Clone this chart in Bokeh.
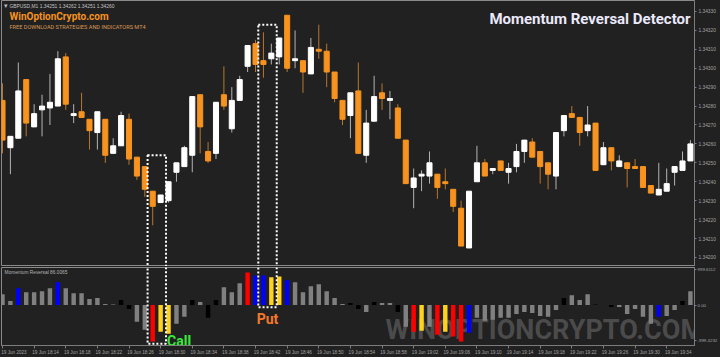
from bokeh.plotting import figure
from bokeh.layouts import column
from bokeh.models import (ColumnDataSource, Range1d, LinearAxis, FixedTicker,
                          NumeralTickFormatter, Label)
from bokeh.core.properties import value
from bokeh.embed import file_html
from bokeh.resources import INLINE

# ---------------- data ----------------
symbol = "GBPUSD,M1"

opens = [1.34283, 1.34258, 1.34263, 1.34294, 1.34269, 1.34278, 1.34279, 1.34280, 1.34306, 1.34275,
         1.34277, 1.34273, 1.34266, 1.34273, 1.34255, 1.34259, 1.34273, 1.34253, 1.34248, 1.34235,
         1.34229, 1.34230, 1.34245, 1.34248, 1.34254, 1.34286, 1.34256, 1.34255, 1.34286, 1.34268,
         1.34283, 1.34301, 1.34313, 1.34304, 1.34305, 1.34306, 1.34328, 1.34304, 1.34304, 1.34297,
         1.34310, 1.34309, 1.34298, 1.34283, 1.34275, 1.34288, 1.34254, 1.34272, 1.34287, 1.34283,
         1.34279, 1.34262, 1.34237, 1.34243, 1.34243, 1.34244, 1.34240, 1.34236, 1.34226, 1.34205,
         1.34240, 1.34250, 1.34246, 1.34251, 1.34245, 1.34248, 1.34256, 1.34261, 1.34256, 1.34250,
         1.34243, 1.34267, 1.34276, 1.34274, 1.34267, 1.34271, 1.34249, 1.34258, 1.34248, 1.34250,
         1.34248, 1.34248, 1.34238, 1.34233, 1.34235, 1.34245, 1.34246, 1.34251]
highs = [1.34292, 1.34264, 1.34303, 1.34294, 1.34281, 1.34286, 1.34297, 1.34309, 1.34308, 1.34281,
         1.34287, 1.34273, 1.34277, 1.34273, 1.34263, 1.34277, 1.34276, 1.34253, 1.34248, 1.34235,
         1.34233, 1.34240, 1.34250, 1.34259, 1.34285, 1.34286, 1.34261, 1.34282, 1.34301, 1.34290,
         1.34296, 1.34312, 1.34315, 1.34319, 1.34313, 1.34316, 1.34328, 1.34320, 1.34304, 1.34316,
         1.34323, 1.34313, 1.34298, 1.34283, 1.34287, 1.34303, 1.34278, 1.34296, 1.34292, 1.34288,
         1.34281, 1.34262, 1.34247, 1.34246, 1.34256, 1.34244, 1.34247, 1.34236, 1.34230, 1.34235,
         1.34259, 1.34252, 1.34247, 1.34251, 1.34250, 1.34260, 1.34262, 1.34263, 1.34256, 1.34250,
         1.34266, 1.34275, 1.34280, 1.34274, 1.34280, 1.34271, 1.34261, 1.34258, 1.34254, 1.34250,
         1.34252, 1.34248, 1.34238, 1.34250, 1.34247, 1.34248, 1.34256, 1.34262]
lows = [1.34255, 1.34244, 1.34263, 1.34264, 1.34269, 1.34264, 1.34270, 1.34280, 1.34278, 1.34271,
        1.34274, 1.34257, 1.34257, 1.34250, 1.34255, 1.34259, 1.34249, 1.34241, 1.34232, 1.34217,
        1.34229, 1.34229, 1.34240, 1.34248, 1.34245, 1.34255, 1.34250, 1.34252, 1.34278, 1.34266,
        1.34283, 1.34298, 1.34298, 1.34295, 1.34302, 1.34302, 1.34298, 1.34300, 1.34287, 1.34297,
        1.34305, 1.34290, 1.34282, 1.34270, 1.34263, 1.34255, 1.34250, 1.34272, 1.34278, 1.34273,
        1.34263, 1.34239, 1.34226, 1.34235, 1.34239, 1.34231, 1.34236, 1.34224, 1.34206, 1.34205,
        1.34240, 1.34243, 1.34244, 1.34246, 1.34239, 1.34245, 1.34250, 1.34253, 1.34239, 1.34236,
        1.34236, 1.34264, 1.34274, 1.34259, 1.34264, 1.34246, 1.34249, 1.34246, 1.34248, 1.34237,
        1.34247, 1.34237, 1.34234, 1.34233, 1.34235, 1.34238, 1.34246, 1.34251]
closes = [1.34262, 1.34264, 1.34288, 1.34271, 1.34276, 1.34280, 1.34282, 1.34305, 1.34281, 1.34276,
          1.34274, 1.34267, 1.34277, 1.34254, 1.34259, 1.34275, 1.34252, 1.34243, 1.34236, 1.34227,
          1.34233, 1.34240, 1.34250, 1.34258, 1.34285, 1.34269, 1.34251, 1.34282, 1.34280, 1.34283,
          1.34294, 1.34312, 1.34302, 1.34302, 1.34308, 1.34316, 1.34300, 1.34305, 1.34298, 1.34311,
          1.34309, 1.34298, 1.34284, 1.34273, 1.34287, 1.34255, 1.34271, 1.34285, 1.34284, 1.34284,
          1.34263, 1.34239, 1.34242, 1.34244, 1.34250, 1.34237, 1.34239, 1.34227, 1.34206, 1.34235,
          1.34250, 1.34243, 1.34247, 1.34246, 1.34247, 1.34256, 1.34262, 1.34253, 1.34248, 1.34244,
          1.34266, 1.34275, 1.34274, 1.34266, 1.34270, 1.34246, 1.34258, 1.34251, 1.34251, 1.34247,
          1.34247, 1.34237, 1.34234, 1.34236, 1.34239, 1.34248, 1.34251, 1.34260]

# momentum histogram and the state of each bar
momentum = [306, 111, 473, 361, 361, 389, 473, 639, 473, 334, 334, 167, 195, 28, 14, 139,
            -111, -473, -695, -1029, -751, -806, -528, -334, 139, 83, -361, 139, 500, 361, 612, 917,
            834, 834, 778, 806, 695, 639, 361, 528, 584, 389, 195, 28, 56, -111, -195, 83,
            56, 56, -195, -612, -751, -723, -612, -834, -751, -890, -1029, -778, -361, -445, -417, -361,
            -361, -250, -195, -222, -306, -334, -139, 195, 278, 139, 306, 14, 0, -56, -56, -250,
            -111, -334, -528, -334, -306, -139, 111, 389]
state = ["g", "g", "b", "g", "g", "g", "g", "b", "g", "g", "g", "g", "g", "g", "g", "k",
         "k", "g", "g", "r", "y", "y", "g", "g", "k", "g", "k", "k", "g", "g", "g", "r",
         "b", "b", "y", "y", "b", "g", "g", "g", "g", "g", "g", "g", "k", "k", "g", "k",
         "g", "g", "k", "g", "r", "y", "g", "r", "y", "r", "r", "b", "g", "g", "g", "g",
         "g", "g", "g", "g", "g", "g", "g", "k", "g", "g", "g", "k", "g", "k", "g", "g",
         "g", "g", "g", "b", "g", "g", "k", "g"]

# signals: kind, first and last bar of the signal window, upper edge of the window
signal_kind = ["Call", "Put"]
signal_first = [19, 33]
signal_last = [20, 34]
signal_top = [1.34254, 1.34323]

price_ticks = [1.34200, 1.34210, 1.34220, 1.34230, 1.34240, 1.34250, 1.34260,
               1.34270, 1.34280, 1.34290, 1.34300, 1.34310, 1.34320, 1.34330]
osc_ticks = [999.6112, 0.0, -999.4232]
osc_tick_labels = ["999.6112", "0.00", "-999.4232"]
time_label_bars = [0, 4, 8, 12, 16, 20, 24, 28, 32, 36, 40, 44, 48, 52, 56, 60, 64, 68, 72, 76, 80, 84]
time_labels = ["19 Jun 2023", "19 Jun 18:14", "19 Jun 18:18", "19 Jun 18:22", "19 Jun 18:26",
               "19 Jun 18:30", "19 Jun 18:34", "19 Jun 18:38", "19 Jun 18:42", "19 Jun 18:46",
               "19 Jun 18:50", "19 Jun 18:54", "19 Jun 18:58", "19 Jun 19:02", "19 Jun 19:06",
               "19 Jun 19:10", "19 Jun 19:14", "19 Jun 19:18", "19 Jun 19:22", "19 Jun 19:26",
               "19 Jun 19:30", "19 Jun 19:34"]

# ---------------- styling ----------------
BG = "#212121"
AXIS = "#7c7c7c"
TICK_TXT = "#a4a4a4"
ORANGE = "#F7931E"
WHITE = "#FFFFFF"
HEAVY = "Roboto"
SMALL = "Liberation Sans"
STATE_COLORS = {"g": "#808080", "b": "#0000FF", "r": "#FF0000", "y": "#FFD21F", "k": "#000000"}

W = 720
MAIN_H = 266
OSC_H = 91
BAR_PX = 7.93        # horizontal pixels per bar
BORDER_L = 1
BORDER_R = 24
FRAME_W = W - BORDER_L - BORDER_R
x0 = -1.0 / BAR_PX
xr = Range1d(x0, x0 + FRAME_W / BAR_PX)

n = len(opens)
idx = list(range(n))
bull = [c >= o for o, c in zip(opens, closes)]
candles = ColumnDataSource(dict(
    i=idx, open=opens, high=highs, low=lows, close=closes,
    top=[max(o, c) for o, c in zip(opens, closes)],
    bottom=[min(o, c) for o, c in zip(opens, closes)],
    body=[WHITE if b else ORANGE for b in bull],
    wick=["#b4b4b4" if b else "#b8772c" for b in bull],
))

# ---------------- price panel ----------------
main = figure(width=W, height=MAIN_H, x_range=xr, y_range=Range1d(1.341952, 1.343358),
              output_backend="svg", toolbar_location=None,
              x_axis_location=None, y_axis_location=None,
              min_border_left=BORDER_L, min_border_top=0, min_border_bottom=0,
              min_border_right=BORDER_R,
              background_fill_color=BG, border_fill_color=BG,
              outline_line_color="#8a8a8a", outline_line_width=1)
main.xgrid.visible = False
main.ygrid.visible = False

price_axis = LinearAxis(ticker=FixedTicker(ticks=price_ticks),
                        formatter=NumeralTickFormatter(format="0.00000"),
                        axis_line_color=AXIS, major_tick_line_color=AXIS,
                        major_tick_out=2, major_tick_in=0,
                        minor_tick_line_color=None,
                        major_label_standoff=2,
                        major_label_text_color=TICK_TXT,
                        major_label_text_font=SMALL,
                        major_label_text_font_size="4.8px")
main.add_layout(price_axis, "right")

main.segment(x0="i", y0="low", x1="i", y1="high", line_color="wick", line_width=1, source=candles)
main.vbar(x="i", top="top", bottom="bottom", width=0.64, fill_color="body",
          line_color="body", line_width=1, source=candles)

left = [f - 0.65 for f in signal_first]
right = [l + 0.68 for l in signal_last]
main.quad(left=left, right=right, top=signal_top,
          bottom=[main.y_range.start - 0.001] * len(left),
          fill_alpha=0, line_color=WHITE, line_width=2, line_dash="2 2")

last = n - 1
header = (f"{symbol}  {opens[last]:.5f} {highs[last]:.5f} "
          f"{lows[last]:.5f} {closes[last]:.5f}")
main.add_layout(Label(x=2, y=MAIN_H - 1, x_units="screen", y_units="screen", text="\u25be",
                      text_color="#bdbdbd", text_font_size="7px", text_baseline="top"))
main.add_layout(Label(x=8, y=MAIN_H - 3, x_units="screen", y_units="screen", text=header,
                      text_color="#c4c4c4", text_font=SMALL,
                      text_font_size="4.9px", text_baseline="top"))
main.add_layout(Label(x=8, y=MAIN_H - 10, x_units="screen", y_units="screen",
                      text="WinOptionCrypto.com", text_color=ORANGE, text_font=HEAVY,
                      text_font_style="bold", text_font_size="10px", text_baseline="top"))
main.add_layout(Label(x=8, y=MAIN_H - 23, x_units="screen", y_units="screen",
                      text="FREE DOWNLOAD STRATEGIES AND INDICATORS MT4", text_color="#d99a55",
                      text_font=HEAVY, text_font_size="5.6px", text_baseline="top"))
main.add_layout(Label(x=689, y=MAIN_H - 9, x_units="screen", y_units="screen",
                      text="Momentum Reversal Detector", text_color="#ebe9fb",
                      text_font=HEAVY, text_font_style="bold", text_font_size="15px",
                      text_align="right", text_baseline="top"))

# ---------------- oscillator panel ----------------
osc_lo, osc_hi = -1140, 1056
osc = figure(width=W, height=OSC_H, x_range=xr, y_range=Range1d(osc_lo, osc_hi),
             output_backend="svg", toolbar_location=None,
             x_axis_location=None, y_axis_location=None,
             min_border_left=BORDER_L, min_border_top=1, min_border_bottom=11,
             min_border_right=BORDER_R,
             background_fill_color=BG, border_fill_color=BG,
             outline_line_color="#8a8a8a", outline_line_width=1)
osc.xgrid.visible = False
osc.ygrid.visible = False

osc.add_layout(Label(x=384, y=0, x_units="screen", y_units="screen", text="WINOPTIONCRYPTO.COM",
                     text_color="#5a5a5a", text_alpha=0.75, text_font=HEAVY,
                     text_font_style="bold", text_font_size="27px", level="underlay"))

hist = ColumnDataSource(dict(
    i=idx,
    top=[max(v, 0) for v in momentum],
    bottom=[min(v, 0) for v in momentum],
    color=[STATE_COLORS[s] for s in state],
))
osc.vbar(x="i", top="top", bottom="bottom", width=0.56, fill_color="color", line_color=None, source=hist)

pad = 60
box_bottom = []
for f, l in zip(signal_first, signal_last):
    box_bottom.append(min(0, min(momentum[f:l + 1])) - pad)
osc.quad(left=left, right=right, top=[osc_hi + 500] * len(left), bottom=box_bottom,
         fill_alpha=0, line_color=WHITE, line_width=2, line_dash="2 2")

for kind, lx, rx, bb in zip(signal_kind, left, right, box_bottom):
    if kind == "Call":
        osc.text(x=[rx], y=[bb], text=[kind], x_offset=1, y_offset=-3,
                 text_color="#3BE83B", text_font=value(HEAVY), text_font_style="bold",
                 text_font_size="14px", text_align="left", text_baseline="alphabetic")
    else:
        osc.text(x=[(lx + rx) / 2], y=[bb], text=[kind], y_offset=12,
                 text_color="#F5782A", text_font=value(HEAVY), text_font_style="bold",
                 text_font_size="14px", text_align="center", text_baseline="alphabetic")

osc.add_layout(Label(x=3, y=79 - 3, x_units="screen", y_units="screen",
                     text="Momentum Reversal 86.0065", text_color="#b4b4b4",
                     text_font=SMALL, text_font_size="4.8px",
                     text_baseline="top"))

osc_axis = LinearAxis(ticker=FixedTicker(ticks=osc_ticks),
                      major_label_overrides=dict(zip(osc_ticks, osc_tick_labels)),
                      axis_line_color=AXIS, major_tick_line_color=AXIS,
                      major_tick_out=2, major_tick_in=0, minor_tick_line_color=None,
                      major_label_standoff=1, major_label_text_color=TICK_TXT,
                      major_label_text_font=SMALL, major_label_text_font_size="4.4px")
osc.add_layout(osc_axis, "right")

label_pos = [b + 1.45 for b in time_label_bars]
time_axis = LinearAxis(ticker=FixedTicker(ticks=label_pos, minor_ticks=time_label_bars),
                       major_label_overrides=dict(zip(label_pos, time_labels)),
                       axis_line_color=AXIS, major_tick_line_color=None,
                       major_tick_out=0, major_tick_in=0,
                       minor_tick_line_color=AXIS, minor_tick_out=3, minor_tick_in=0,
                       major_label_standoff=1, major_label_text_color=TICK_TXT,
                       major_label_text_font=SMALL, major_label_text_font_size="4.6px")
osc.add_layout(time_axis, "below")

layout = column(main, osc, spacing=0, styles={"background-color": BG})
open("out.html", "w").write(file_html(layout, INLINE))
